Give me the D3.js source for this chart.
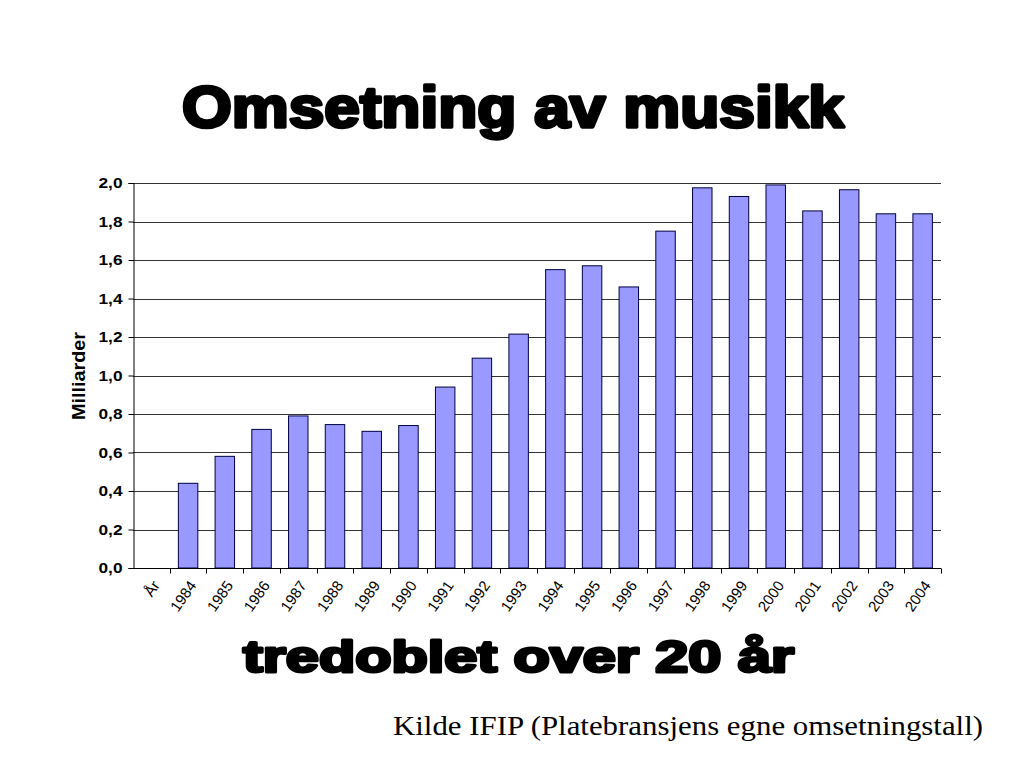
<!DOCTYPE html>
<html><head><meta charset="utf-8">
<script src="https://cdn.jsdelivr.net/npm/d3@7"></script>
<style>body{margin:0;background:#fff}svg{display:block}</style>
</head><body>
<svg id="c" width="1023" height="767"></svg>
<script>
const categories = ["År","1984","1985","1986","1987","1988","1989","1990","1991","1992","1993","1994","1995","1996","1997","1998","1999","2000","2001","2002","2003","2004"];
const values = [null,0.44,0.58,0.72,0.79,0.745,0.71,0.74,0.94,1.09,1.215,1.55,1.57,1.46,1.75,1.975,1.93,1.99,1.855,1.965,1.84,1.84];
const yTicks = [0,0.2,0.4,0.6,0.8,1.0,1.2,1.4,1.6,1.8,2.0];
const title = "Omsetning av musikk";
const subtitle = "tredoblet over 20 år";
const source = "Kilde IFIP (Platebransjens egne omsetningstall)";
const yLabel = "Milliarder";

const svg = d3.select("#c");
const m = {l:133, r:941, t:183, b:568};
const x = d3.scaleBand().domain(categories).range([m.l, m.r]).paddingInner(0.47).paddingOuter(0.235);
const xb = d3.scaleBand().domain(categories).range([m.l, m.r]);
const y = d3.scaleLinear().domain([0,2]).range([m.b, m.t]);
const fmt = d => d.toFixed(1).replace(".", ",");

// gridlines
svg.append("g").selectAll("line").data(yTicks.filter(d=>d>0)).join("line")
  .attr("x1", m.l).attr("x2", m.r)
  .attr("y1", d=>Math.round(y(d))+0.5).attr("y2", d=>Math.round(y(d))+0.5)
  .attr("stroke", "#333").attr("stroke-width", 1);

// bars
const data = categories.map((c,i)=>({c, v: values[i]})).filter(d=>d.v!=null);
svg.append("g").selectAll("rect").data(data).join("rect")
  .attr("x", d=>x(d.c)).attr("width", x.bandwidth())
  .attr("y", d=>y(d.v)).attr("height", d=>y(0)-y(d.v))
  .attr("fill", "#9999FF").attr("stroke", "#000040").attr("stroke-width", 1);

// y axis
const ya = svg.append("g").attr("transform", `translate(${m.l+0.5},0)`)
  .call(d3.axisLeft(y).tickValues(yTicks).tickFormat(fmt).tickSize(5).tickPadding(6));
ya.select(".domain").attr("stroke", "#000");
ya.selectAll("line").attr("stroke", "#000");
ya.selectAll("text").attr("font-family", "Liberation Sans, Arial, sans-serif").attr("font-size", 15)
  .attr("font-weight", "bold").attr("fill", "#000")
  .attr("textLength", 24).attr("lengthAdjust", "spacingAndGlyphs");

// x axis
const xa = svg.append("g").attr("transform", `translate(0,${m.b+0.5})`);
xa.append("line").attr("x1", m.l).attr("x2", m.r).attr("stroke", "#000");
xa.selectAll("line.t").data(categories.slice(1).concat(["__end"])).join("line").attr("class","t")
  .attr("x1", (d,i)=> Math.round(m.l + xb.step()*(i+1))+0.5)
  .attr("x2", (d,i)=> Math.round(m.l + xb.step()*(i+1))+0.5)
  .attr("y1", 0).attr("y2", 5).attr("stroke", "#000");
xa.selectAll("text").data(categories).join("text")
  .attr("transform", d=>`translate(${xb(d)+xb.bandwidth()/2+9},${17}) rotate(-55)`)
  .attr("text-anchor", "end")
  .attr("font-family", "Liberation Sans, Arial, sans-serif").attr("font-size", 15)
  .attr("fill", "#000").text(d=>d);

// y label
svg.append("text").attr("transform", `translate(85,376) rotate(-90)`)
  .attr("text-anchor", "middle").attr("font-family", "Liberation Sans, Arial, sans-serif")
  .attr("font-size", 19).attr("font-weight", "bold")
  .attr("textLength", 88).attr("lengthAdjust", "spacingAndGlyphs").text(yLabel);

// titles
function heavy(txt, x0, x1, yb, fs, sw){
  svg.append("text").attr("x", x0).attr("y", yb)
    .attr("textLength", x1-x0).attr("lengthAdjust", "spacingAndGlyphs")
    .attr("font-family", "Liberation Sans, Arial, sans-serif").attr("font-weight", "bold")
    .attr("font-size", fs).attr("fill", "#000").attr("stroke", "#000").attr("stroke-width", sw)
    .attr("stroke-linejoin", "round").text(txt);
}
heavy(title, 182, 844, 127, 57, 3.4);
heavy(subtitle, 243, 794, 672, 44, 3);

svg.append("text").attr("x", 393).attr("y", 735).attr("textLength", 590).attr("lengthAdjust","spacingAndGlyphs")
  .attr("font-family", "Liberation Serif, Times New Roman, serif").attr("font-size", 27).attr("fill", "#000").text(source);
</script>
</body></html>
